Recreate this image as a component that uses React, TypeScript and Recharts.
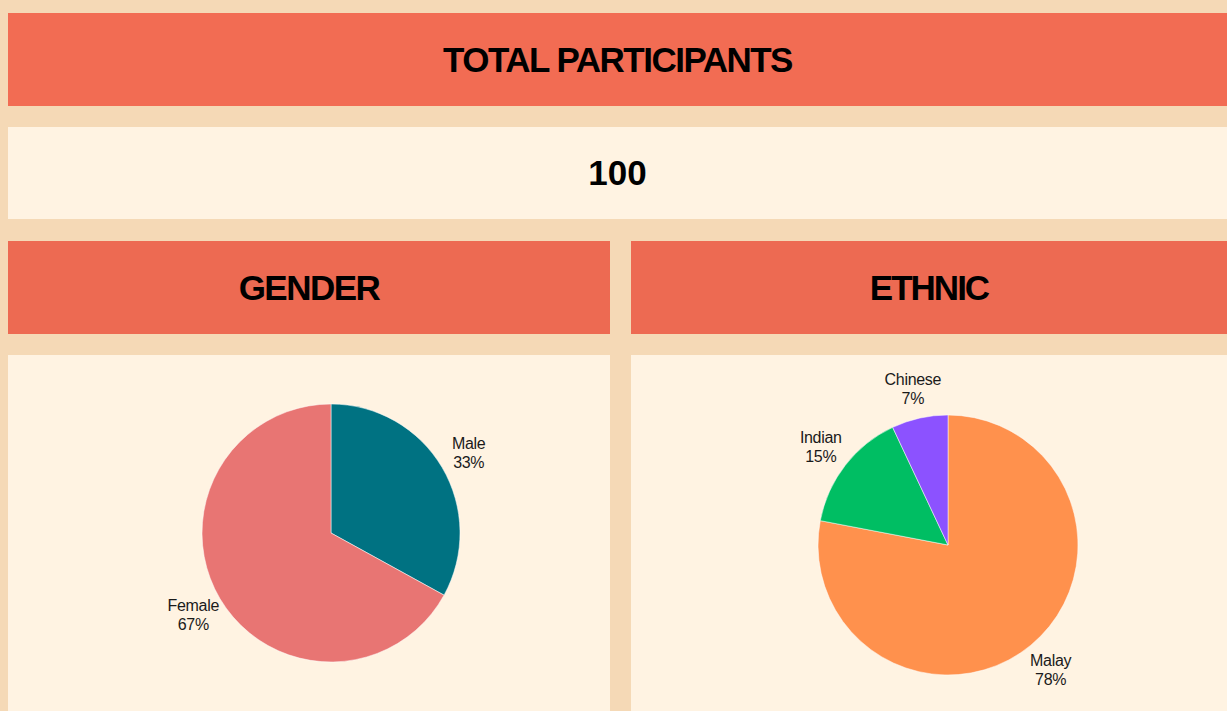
import React from "react";
import { PieChart, Pie, Cell } from "recharts";

const totalParticipants = 100;

const genderNames = ["Male", "Female"];
const genderValues = [33, 67];
const genderColors = ["#007282", "#E87573"];

const ethnicNames = ["Malay", "Indian", "Chinese"];
const ethnicValues = [78, 15, 7];
const ethnicColors = ["#FF914D", "#00BE63", "#8C52FF"];

const titleText = "TOTAL PARTICIPANTS";
const genderTitle = "GENDER";
const ethnicTitle = "ETHNIC";

const BG = "#F5D9B6";
const HEADER = "#F26C53";
const SUBHEADER = "#ED6A52";
const PANEL = "#FFF3E2";

const RADIAN = Math.PI / 180;

const renderLabel = (props: any) => {
  const { cx, cy, midAngle, outerRadius, name, value } = props;
  const r = outerRadius + 31;
  const x = cx + r * Math.cos(-midAngle * RADIAN);
  const y = cy + r * Math.sin(-midAngle * RADIAN);
  return (
    <text
      x={x}
      y={y - 3}
      textAnchor="middle"
      fill="#1a1a1a"
      fontSize={16}
      letterSpacing={-0.3}
      fontFamily="'Liberation Sans', Arial, sans-serif"
    >
      <tspan x={x} dy={0}>{name}</tspan>
      <tspan x={x} dy={19}>{`${value}%`}</tspan>
    </text>
  );
};

const titleStyle: React.CSSProperties = {
  fontFamily: "'Liberation Sans', Arial, sans-serif",
  fontWeight: 700,
  fontSize: 35,
  letterSpacing: -1.5,
  color: "#000",
  display: "flex",
  alignItems: "center",
  justifyContent: "center",
  position: "absolute",
};

export default function App() {
  const genderData = genderNames.map((n, i) => ({ name: n, value: genderValues[i] }));
  const ethnicData = ethnicNames.map((n, i) => ({ name: n, value: ethnicValues[i] }));
  return (
    <div style={{ position: "fixed", left: 0, top: 0, width: 1227, height: 711, background: BG, overflow: "hidden" }}>
      <div style={{ ...titleStyle, left: 8, top: 13, width: 1219, height: 93, background: HEADER }}>{titleText}</div>
      <div style={{ ...titleStyle, left: 8, top: 127, width: 1219, height: 92, background: PANEL, letterSpacing: 0 }}>
        {totalParticipants}
      </div>
      <div style={{ ...titleStyle, left: 8, top: 241, width: 602, height: 93, background: SUBHEADER }}>{genderTitle}</div>
      <div style={{ ...titleStyle, left: 631, top: 241, width: 596, height: 93, background: SUBHEADER, letterSpacing: -2 }}>{ethnicTitle}</div>
      <div style={{ position: "absolute", left: 8, top: 355, width: 602, height: 356, background: PANEL }}>
        <PieChart width={602} height={356} margin={{ top: 0, right: 0, bottom: 0, left: 0 }}>
          <Pie
            data={genderData}
            dataKey="value"
            nameKey="name"
            cx={323}
            cy={178}
            outerRadius={129}
            startAngle={90}
            endAngle={-270}
            stroke="#ffffff"
            strokeWidth={0.5}
            label={renderLabel}
            labelLine={false}
            isAnimationActive={false}
          >
            {genderData.map((d, i) => (
              <Cell key={d.name} fill={genderColors[i]} />
            ))}
          </Pie>
        </PieChart>
      </div>
      <div style={{ position: "absolute", left: 631, top: 355, width: 596, height: 356, background: PANEL }}>
        <PieChart width={596} height={356} margin={{ top: 0, right: 0, bottom: 0, left: 0 }}>
          <Pie
            data={ethnicData}
            dataKey="value"
            nameKey="name"
            cx={317}
            cy={190}
            outerRadius={130}
            startAngle={90}
            endAngle={-270}
            stroke="#ffffff"
            strokeWidth={0.5}
            label={renderLabel}
            labelLine={false}
            isAnimationActive={false}
          >
            {ethnicData.map((d, i) => (
              <Cell key={d.name} fill={ethnicColors[i]} />
            ))}
          </Pie>
        </PieChart>
      </div>
    </div>
  );
}
